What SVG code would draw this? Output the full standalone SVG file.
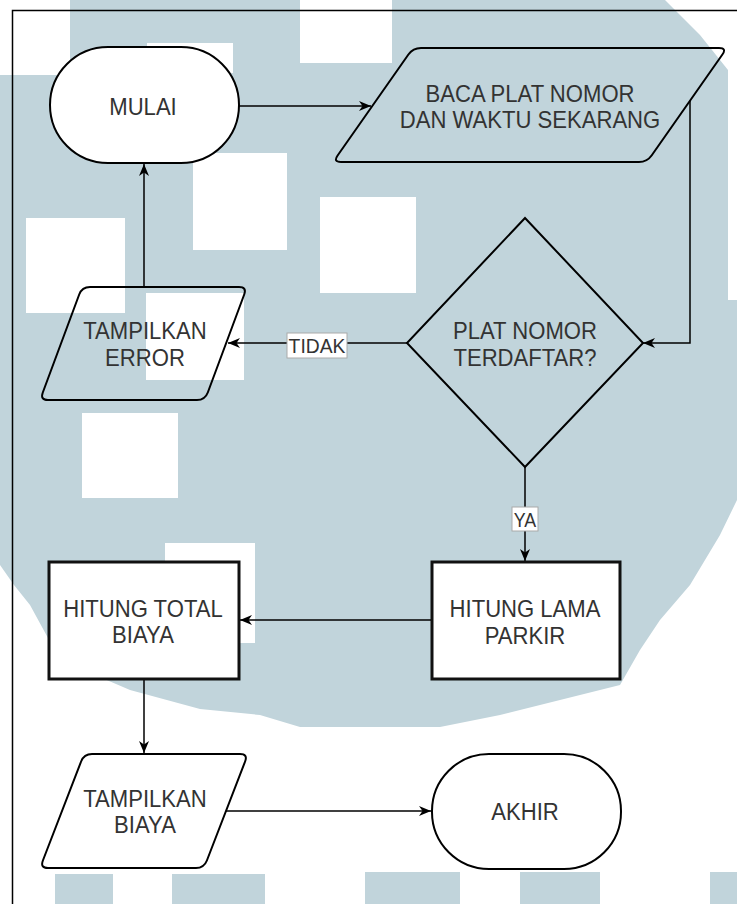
<svg xmlns="http://www.w3.org/2000/svg" width="737" height="904" viewBox="0 0 737 904">
<style>
.t{font-family:"Liberation Sans",Arial,sans-serif;font-size:23.5px;fill:#333;text-anchor:middle;transform-box:fill-box;transform-origin:center;transform:scaleX(0.94)}
.lbl{font-family:"Liberation Sans",Arial,sans-serif;font-size:21px;fill:#333;text-anchor:middle;transform-box:fill-box;transform-origin:center;transform:scaleX(0.92)}
.sh{fill:none;stroke:#000;stroke-width:2}
.term{fill:#fff;stroke:#000;stroke-width:2}
.box{fill:#fff;stroke:#111;stroke-width:3}
.c{fill:none;stroke:#000;stroke-width:1.5;marker-end:url(#ah)}
.wm{fill:#c1d4db}
.wh{fill:#fff}
</style>
<defs>
<marker id="ah" markerUnits="userSpaceOnUse" markerWidth="13" markerHeight="11" refX="12" refY="5.5" orient="auto">
<path d="M0,0.5 L12,5.5 L0,10.5 L3.5,5.5 z" fill="#000"/>
</marker>
</defs>
<rect width="737" height="904" fill="#fff"/>
<g id="watermark">
<path class="wm" d="M0,75 L70,75 L70,0 L665,0 L700,35 L728,70 L728,300 L737,300 L737,500 L720,535 L690,585 L660,620 L640,650 L620,685 L560,700 L500,715 L440,727 L300,727 L260,715 L200,709 L130,690 L60,660 L30,605 L14,585 L0,565 Z"/>
<rect class="wh" x="300" y="0" width="92" height="63"/>
<rect class="wh" x="147" y="43" width="86" height="30"/>
<rect class="wh" x="193" y="153" width="94" height="97"/>
<rect class="wh" x="320" y="197" width="96" height="96"/>
<rect class="wh" x="26" y="218" width="99" height="95"/>
<rect class="wh" x="146" y="293" width="98" height="87"/>
<rect class="wh" x="82" y="413" width="96" height="85"/>
<rect class="wh" x="165" y="543" width="90" height="100"/>
<rect class="wm" x="55" y="874" width="58" height="30"/>
<rect class="wm" x="172" y="874" width="93" height="30"/>
<rect class="wm" x="365" y="872" width="95" height="32"/>
<rect class="wm" x="520" y="872" width="80" height="32"/>
<rect class="wm" x="710" y="872" width="27" height="32"/>
</g>
<path id="frame" d="M12.5,904 L12.5,10.5 L737,10.5" fill="none" stroke="#000" stroke-width="1.5"/>
<g id="connectors">
<path class="c" d="M239,106 L371,106"/>
<path class="c" d="M690,101 L690,343 L643,343"/>
<path class="c" d="M407,343 L228,343"/>
<path class="c" d="M144,287 L144,164"/>
<path class="c" d="M525,467 L525,561"/>
<path class="c" d="M432,620 L240,620"/>
<path class="c" d="M144,679 L144,753"/>
<path class="c" d="M226,811 L431,811"/>
<g id="label-tidak">
<rect x="287" y="333" width="60" height="25" fill="#fff" stroke="#aaa" stroke-width="1"/>
<text class="lbl" x="317" y="353">TIDAK</text>
</g>
<g id="label-ya">
<rect x="512" y="507" width="26" height="24" fill="#fff" stroke="#aaa" stroke-width="1"/>
<text class="lbl" x="525" y="527" style="transform:scaleX(0.85)">YA</text>
</g>
</g>
<g id="mulai">
<rect class="term" x="50" y="47" width="189" height="116" rx="58" ry="58"/>
<text class="t" x="143" y="115">MULAI</text>
</g>
<g id="baca">
<path class="sh" d="M421,48 L719,48 Q727,48 722.4,54.5 L651.6,155.5 Q647,162 639,162 L341,162 Q333,162 337.6,155.5 L408.4,54.5 Q413,48 421,48 Z"/>
<text class="t" x="530" y="102">BACA PLAT NOMOR</text>
<text class="t" x="530" y="128">DAN WAKTU SEKARANG</text>
</g>
<g id="decision">
<path class="sh" d="M525,218 L643,343 L525,467 L407,343 Z"/>
<text class="t" x="525" y="339">PLAT NOMOR</text>
<text class="t" x="525" y="366">TERDAFTAR?</text>
</g>
<g id="error">
<path class="sh" d="M90,287 L239,287 Q247,287 244.2,294.5 L207.8,392.5 Q205,400 197,400 L48,400 Q40,400 42.8,392.5 L79.2,294.5 Q82,287 90,287 Z"/>
<text class="t" x="145" y="339">TAMPILKAN</text>
<text class="t" x="145" y="366">ERROR</text>
</g>
<g id="lama">
<rect class="box" x="432" y="562" width="188" height="117"/>
<text class="t" x="525" y="617">HITUNG LAMA</text>
<text class="t" x="525" y="644">PARKIR</text>
</g>
<g id="total">
<rect class="box" x="49" y="562" width="190" height="117"/>
<text class="t" x="143" y="617">HITUNG TOTAL</text>
<text class="t" x="143" y="643">BIAYA</text>
</g>
<g id="tampil-biaya">
<path class="sh" d="M92,754 L240,754 Q248,754 245.1,761.5 L206.9,860.5 Q204,868 196,868 L48,868 Q40,868 42.9,860.5 L81.1,761.5 Q84,754 92,754 Z"/>
<text class="t" x="145" y="807">TAMPILKAN</text>
<text class="t" x="145" y="833">BIAYA</text>
</g>
<g id="akhir">
<rect class="term" x="432" y="754" width="189" height="115" rx="57" ry="57"/>
<text class="t" x="525" y="820">AKHIR</text>
</g>
</svg>
